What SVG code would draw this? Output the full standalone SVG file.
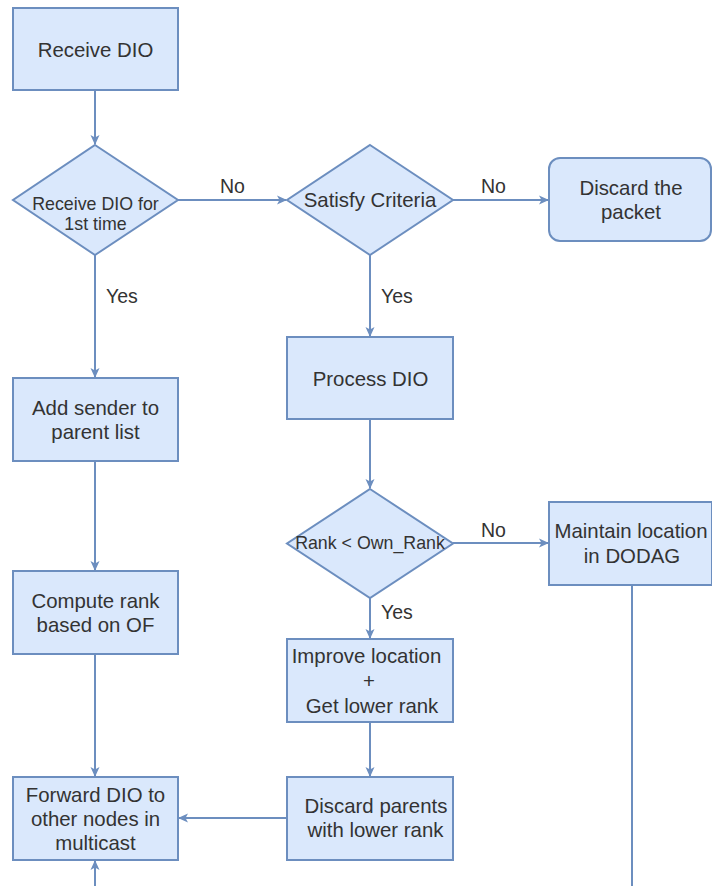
<svg xmlns="http://www.w3.org/2000/svg" width="712" height="886" viewBox="0 0 712 886">
  <style>
    .box { fill: #dae8fc; stroke: #6c8ebf; stroke-width: 2; }
    .edge { fill: none; stroke: #6c8ebf; stroke-width: 2; }
    .t { font-family: "Liberation Sans", Arial, Helvetica, sans-serif; font-size: 20.4px; fill: #333333; text-anchor: middle; }
    .ts { font-size: 17.8px; }
    .lbl { font-family: "Liberation Sans", Arial, Helvetica, sans-serif; font-size: 19.5px; fill: #333333; }
  </style>
  <defs>
    <marker id="arrow" viewBox="0 0 10 10" refX="9" refY="5" markerWidth="10" markerHeight="10" markerUnits="userSpaceOnUse" orient="auto">
      <path d="M0,0.5 L10,5 L0,9.5 L2.5,5 z" fill="#6c8ebf"/>
    </marker>
  </defs>

  <rect width="712" height="886" fill="#ffffff"/>

  <!-- connectors -->
  <g id="connectors">
    <path class="edge" d="M95,90 V144" marker-end="url(#arrow)"/>
    <path class="edge" d="M178,200 H286" marker-end="url(#arrow)"/>
    <path class="edge" d="M453,200 H548" marker-end="url(#arrow)"/>
    <path class="edge" d="M95,255 V377" marker-end="url(#arrow)"/>
    <path class="edge" d="M370,255 V336" marker-end="url(#arrow)"/>
    <path class="edge" d="M95,461 V570" marker-end="url(#arrow)"/>
    <path class="edge" d="M370,419 V488" marker-end="url(#arrow)"/>
    <path class="edge" d="M453,543 H548" marker-end="url(#arrow)"/>
    <path class="edge" d="M370,598 V638" marker-end="url(#arrow)"/>
    <path class="edge" d="M370,722 V776" marker-end="url(#arrow)"/>
    <path class="edge" d="M95,654 V776" marker-end="url(#arrow)"/>
    <path class="edge" d="M287,818 H179" marker-end="url(#arrow)"/>
    <path class="edge" d="M95,886 V861" marker-end="url(#arrow)"/>
    <path class="edge" d="M632,585 V886"/>

    <text class="lbl" x="220" y="193">No</text>
    <text class="lbl" x="481" y="193">No</text>
    <text class="lbl" x="481" y="537">No</text>
    <text class="lbl" x="106" y="303">Yes</text>
    <text class="lbl" x="381" y="303">Yes</text>
    <text class="lbl" x="381" y="619">Yes</text>
  </g>

  <g id="receive-dio">
    <rect class="box" x="13" y="8" width="165" height="82"/>
    <text class="t" x="95.5" y="57">Receive DIO</text>
  </g>

  <g id="first-time">
    <polygon class="box" points="95,145 178,200 95,255 13,200"/>
    <text class="t ts" x="95.5" y="210">Receive DIO for</text>
    <text class="t ts" x="95.5" y="230">1st time</text>
  </g>

  <g id="satisfy-criteria">
    <polygon class="box" points="370,145 453,200 370,255 287,200"/>
    <text class="t" x="370" y="207">Satisfy Criteria</text>
  </g>

  <g id="discard-packet">
    <rect class="box" x="549" y="158" width="162" height="83" rx="11" ry="11"/>
    <text class="t" x="631" y="195">Discard the</text>
    <text class="t" x="631" y="219">packet</text>
  </g>

  <g id="add-sender">
    <rect class="box" x="13" y="378" width="165" height="83"/>
    <text class="t" x="95.5" y="415">Add sender to</text>
    <text class="t" x="95.5" y="439">parent list</text>
  </g>

  <g id="process-dio">
    <rect class="box" x="287" y="337" width="166" height="82"/>
    <text class="t" x="370.5" y="386">Process DIO</text>
  </g>

  <g id="compute-rank">
    <rect class="box" x="13" y="571" width="165" height="83"/>
    <text class="t" x="95.5" y="608">Compute rank</text>
    <text class="t" x="95.5" y="632">based on OF</text>
  </g>

  <g id="rank-check">
    <polygon class="box" points="370,489 453,543.5 370,598 287,543.5"/>
    <text class="t ts" x="370" y="549">Rank &lt; Own_Rank</text>
  </g>

  <g id="maintain-location">
    <rect class="box" x="549" y="502" width="163" height="83"/>
    <text class="t" x="631" y="538">Maintain location</text>
    <text class="t" x="632" y="563">in DODAG</text>
  </g>

  <g id="improve-location">
    <rect class="box" x="287" y="639" width="166" height="83"/>
    <text class="t" x="366.5" y="663">Improve location</text>
    <text class="t" x="369" y="688">+</text>
    <text class="t" x="372" y="713">Get lower rank</text>
  </g>

  <g id="discard-parents">
    <rect class="box" x="287" y="777" width="166" height="83"/>
    <text class="t" x="376" y="813">Discard parents</text>
    <text class="t" x="375.5" y="837">with lower rank</text>
  </g>

  <g id="forward-dio">
    <rect class="box" x="13" y="777" width="165" height="83"/>
    <text class="t" x="95.5" y="802">Forward DIO to</text>
    <text class="t" x="95.5" y="826">other nodes in</text>
    <text class="t" x="95.5" y="850">multicast</text>
  </g>
</svg>
